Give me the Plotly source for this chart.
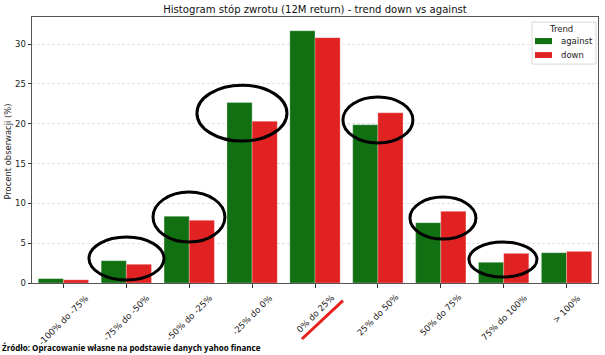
import plotly.graph_objects as go

categories = ["-100% do -75%", "-75% do -50%", "-50% do -25%", "-25% do 0%", "0% do 25%",
              "25% do 50%", "50% do 75%", "75% do 100%", "> 100%"]
against = [0.55, 2.8, 8.37, 22.67, 31.66, 19.87, 7.57, 2.6, 3.8]
down = [0.4, 2.35, 7.87, 20.3, 30.8, 21.37, 9.0, 3.72, 3.97]
series_names = ["against", "down"]

# highlight ellipses: x0, x1, y0, y1 in data units
ellipses = [
    (0.406, 1.599, 0.38, 5.77),
    (1.424, 2.568, 5.14, 11.42),
    (2.123, 3.554, 17.82, 24.84),
    (4.444, 5.557, 17.57, 23.34),
    (5.51, 6.559, 5.52, 10.79),
    (6.448, 7.529, 0.75, 5.14),
]

GREEN = "#107012"
RED = "#e02222"
colors = [GREEN, RED]
FONT = "DejaVu Sans"

xs = list(range(len(categories)))
fig = go.Figure()
for name, vals, col in zip(series_names, [against, down], colors):
    fig.add_trace(go.Bar(x=xs, y=vals, name=name, showlegend=False,
                         marker=dict(color=col, line=dict(color="rgba(255,255,255,0.35)", width=0.8))))

shapes = []
for x0, x1, y0, y1 in ellipses:
    shapes.append(dict(type="circle", xref="x", yref="y", x0=x0, x1=x1, y0=y0, y1=y1,
                       line=dict(color="black", width=3), layer="above"))
# red slash under "0% do 25%"
shapes.append(dict(type="line", xref="x", yref="paper", x0=3.792, x1=4.444, y0=-0.2105, y1=-0.0665,
                   line=dict(color="#e8201c", width=3)))

# legend (matplotlib style)
shapes.append(dict(type="rect", xref="paper", yref="paper", x0=0.8834, x1=0.9965, y0=0.823, y1=0.981,
                   line=dict(color="#d8d8d8", width=1), fillcolor="rgba(255,255,255,0.85)", layer="above"))
annotations = [dict(text="Trend", xref="paper", yref="paper", x=0.9346, y=0.955, showarrow=False,
                    xanchor="center", yanchor="middle", font=dict(family=FONT, size=8.5, color="#222"))]
leg_y = [(0.898, 0.921, 0.910), (0.846, 0.868, 0.857)]
for (y0, y1, yt), name, col in zip(leg_y, series_names, colors):
    shapes.append(dict(type="rect", xref="paper", yref="paper", x0=0.8887, x1=0.9187, y0=y0, y1=y1,
                       line=dict(width=0), fillcolor=col, layer="above"))
    annotations.append(dict(text=name, xref="paper", yref="paper", x=0.931, y=yt, showarrow=False,
                            xanchor="left", yanchor="middle", font=dict(family=FONT, size=8.5, color="#222")))

# x tick labels, rotated and centred under ticks (matplotlib style)
for i, lab in enumerate(categories):
    annotations.append(dict(text=lab, xref="x", yref="paper", x=i, y=0, yshift=-7,
                            xanchor="center", yanchor="top", textangle=-45, showarrow=False,
                            font=dict(family=FONT, size=8.6, color="#222")))

# y axis title
annotations.append(dict(text="Procent obserwacji (%)", xref="paper", yref="paper", x=-0.0424, y=0.494,
                        textangle=-90, showarrow=False, xanchor="center", yanchor="middle",
                        font=dict(family=FONT, size=8.4, color="#222")))
# source footer
annotations.append(dict(text="<b>Źródło: Opracowanie własne na podstawie danych yahoo finance</b>",
                        xref="paper", yref="paper", x=-0.0565, y=-0.244, xanchor="left", yanchor="middle",
                        showarrow=False, font=dict(family="Open Sans", size=8, color="black")))

fig.update_layout(
    width=605, height=355,
    margin=dict(l=32, r=7, t=17, b=72, autoexpand=False),
    paper_bgcolor="white", plot_bgcolor="white",
    barmode="group", bargap=0.2, bargroupgap=0,
    font=dict(family=FONT, size=8.5, color="#222"),
    title=dict(text="Histogram stóp zwrotu (12M return) - trend down vs against",
               xref="paper", x=0.5, xanchor="center", y=0.9746, yanchor="middle",
               font=dict(size=10.1, color="#111")),
    shapes=shapes,
    annotations=annotations,
    showlegend=False,
)
fig.update_xaxes(range=[-0.5, 8.5], tickmode="array", tickvals=xs, showticklabels=False,
                 ticks="outside", ticklen=3.5, tickcolor="#333", automargin=False,
                 showline=True, linecolor="#555", linewidth=1, mirror=True, showgrid=False)
fig.update_yaxes(range=[0, 33.4], tickvals=[0, 5, 10, 15, 20, 25, 30], ticks="outside", ticklen=3.5,
                 tickcolor="#333", showline=True, linecolor="#555", linewidth=1, mirror=True,
                 showgrid=True, gridcolor="#e2e2e2", griddash="3px,2px", gridwidth=1, zeroline=False,
                 automargin=False, tickfont=dict(size=8.5))

fig.write_html("out.html", config={"displayModeBar": False},
               post_script="document.body.style.margin='0px';document.body.style.overflow='hidden';")
